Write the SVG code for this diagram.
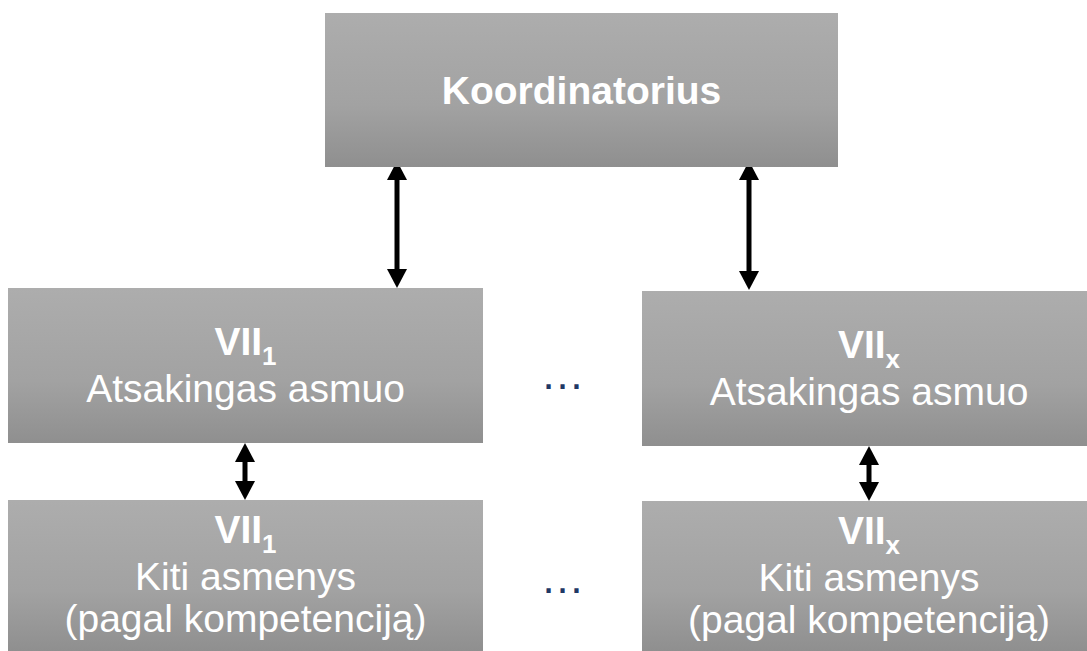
<svg xmlns="http://www.w3.org/2000/svg" width="1087" height="651" viewBox="0 0 1087 651">
<defs>
<linearGradient id="g" x1="0" y1="0" x2="0" y2="1">
<stop offset="0" stop-color="#adadad"/>
<stop offset="0.6" stop-color="#a2a2a2"/>
<stop offset="1" stop-color="#8f8f8f"/>
</linearGradient>
<marker id="ah" viewBox="0 0 19 20" refX="0" refY="10" markerWidth="19" markerHeight="20" markerUnits="userSpaceOnUse" orient="auto-start-reverse">
<path d="M0,0 L19,10 L0,20 z" fill="#000"/>
</marker>
<style>
.box{fill:url(#g);}
.t{font-family:"Liberation Sans",Arial,sans-serif;fill:#fff;text-anchor:middle;font-size:39px;}
.b{font-weight:bold;}
.sub{font-size:26px;font-weight:bold;}
.dots{font-family:"Liberation Sans",Arial,sans-serif;fill:#1f3864;font-size:44px;text-anchor:middle;}
.c{stroke:#000;stroke-width:5;fill:none;marker-start:url(#ah);marker-end:url(#ah);}
</style>
</defs>
<rect width="1087" height="651" fill="#fff"/>
<g id="connectors">
<line class="c" x1="397" y1="180" x2="397" y2="269"/>
<line class="c" x1="749" y1="180" x2="749" y2="271"/>
<line class="c" x1="245" y1="462" x2="245" y2="481"/>
<line class="c" x1="869" y1="465" x2="869" y2="482"/>
</g>
<g id="koordinatorius">
<rect class="box" x="325" y="13" width="513" height="154"/>
<text class="t b" x="581.5" y="104">Koordinatorius</text>
</g>
<g id="vii1-atsakingas">
<rect class="box" x="8" y="288" width="475" height="155"/>
<text class="t" x="245.5" y="355"><tspan class="b">VII</tspan><tspan class="sub" dy="10">1</tspan></text>
<text class="t" x="245.5" y="402">Atsakingas asmuo</text>
</g>
<g id="viix-atsakingas">
<rect class="box" x="642" y="291" width="445" height="155"/>
<text class="t" x="869" y="358"><tspan class="b">VII</tspan><tspan class="sub" dy="10">x</tspan></text>
<text class="t" x="869" y="405">Atsakingas asmuo</text>
</g>
<g id="vii1-kiti">
<rect class="box" x="8" y="500" width="475" height="151"/>
<text class="t" x="245.5" y="543"><tspan class="b">VII</tspan><tspan class="sub" dy="10">1</tspan></text>
<text class="t" x="245.5" y="590">Kiti asmenys</text>
<text class="t" x="245.5" y="632">(pagal kompetenciją)</text>
</g>
<g id="viix-kiti">
<rect class="box" x="642" y="501" width="445" height="150"/>
<text class="t" x="869" y="544"><tspan class="b">VII</tspan><tspan class="sub" dy="10">x</tspan></text>
<text class="t" x="869" y="591">Kiti asmenys</text>
<text class="t" x="869" y="633">(pagal kompetenciją)</text>
</g>
<g id="ellipsis">
<text class="dots" x="562.5" y="389">…</text>
<text class="dots" x="562.5" y="593">…</text>
</g>
</svg>
